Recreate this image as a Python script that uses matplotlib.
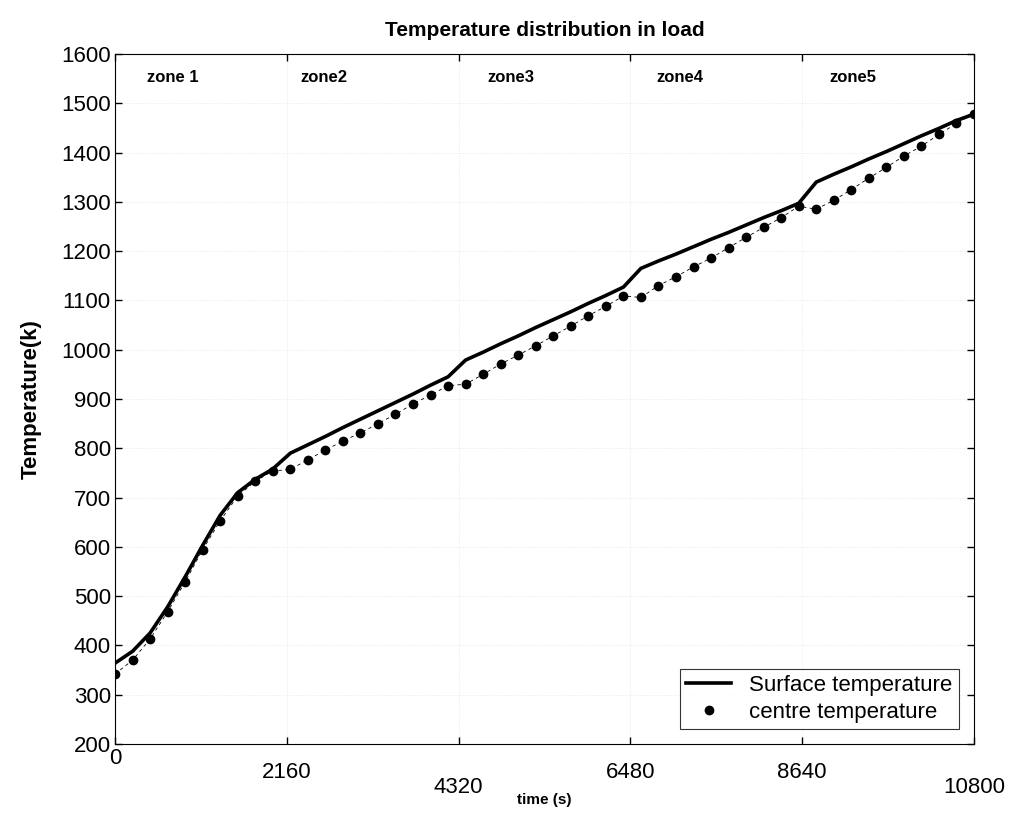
import numpy as np
import matplotlib
matplotlib.use("Agg")
import matplotlib.pyplot as plt

plt.rcParams['font.family'] = ['Liberation Sans', 'DejaVu Sans']

# time grid (s) and temperatures (K)
time_s = np.linspace(0, 10800, 50)
surface_temp = [364, 388, 425, 478, 539, 603, 664, 710, 737, 758,
                790, 807, 824, 842, 859, 876, 893, 910, 928, 945,
                979, 995, 1012, 1028, 1045, 1061, 1077, 1094, 1110, 1127,
                1165, 1180, 1194, 1209, 1224, 1238, 1253, 1268, 1282, 1297,
                1340, 1356, 1371, 1387, 1402, 1418, 1434, 1449, 1465, 1478]
centre_temp = [342, 370, 413, 468, 529, 594, 653, 703, 733, 754,
               757, 777, 796, 815, 831, 850, 869, 890, 908, 927,
               930, 950, 971, 989, 1008, 1028, 1048, 1069, 1088, 1109,
               1106, 1130, 1148, 1168, 1186, 1207, 1228, 1248, 1268, 1291,
               1285, 1303, 1325, 1348, 1370, 1393, 1413, 1437, 1459, 1479]

zone_names = ["zone 1", "zone2", "zone3", "zone4", "zone5"]
zone_x = [730, 2620, 4980, 7100, 9280]
xticks = [0, 2160, 4320, 6480, 8640, 10800]
xtick_pads = [3, 13, 24, 13, 13, 24]
yticks = list(range(200, 1700, 100))

fig = plt.figure(figsize=(10.24, 8.14), dpi=100)
ax = fig.add_axes([0.1123, 0.086, 0.8389, 0.8477])

ax.plot(time_s, surface_temp, color='k', lw=2.6, label="Surface temperature")
ax.plot(time_s, centre_temp, color='k', lw=0.6, ls='--', dashes=(4, 4))
ax.plot(time_s, centre_temp, 'o', color='k', ms=6, ls='none', label="centre temperature")

ax.set_xlim(0, 10800)
ax.set_ylim(200, 1600)
ax.set_yticks(yticks)
ax.set_xticks(xticks)
ax.set_xticklabels([str(t) for t in xticks])
ax.tick_params(axis='both', direction='in', length=5, width=1, labelsize=16)
ax.tick_params(axis='y', pad=3)
for tick, p in zip(ax.xaxis.get_major_ticks(), xtick_pads):
    tick.set_pad(p)
ax.tick_params(top=True, right=True)
ax.grid(True, ls=':', lw=0.5, color='0.88')

for name, zx in zip(zone_names, zone_x):
    ax.text(zx, 1552, name, fontsize=12, fontweight='bold', ha='center', va='center')

ax.set_title("Temperature distribution in load", fontsize=15, fontweight='bold', pad=13)
ax.set_ylabel("Temperature(k)", fontsize=16, fontweight='bold', labelpad=14)
ax.set_xlabel("time (s)", fontsize=11, fontweight='bold')
ax.xaxis.set_label_coords(0.5, -0.071)

leg = ax.legend(loc='lower right', fontsize=16, frameon=True, fancybox=False,
                edgecolor='k', handlelength=2.0, handletextpad=0.8,
                borderaxespad=0.5, borderpad=0.3, labelspacing=0.25,
                bbox_to_anchor=(0.995, 0.005))
leg.get_frame().set_linewidth(0.8)

plt.savefig("out.png", dpi=100)
